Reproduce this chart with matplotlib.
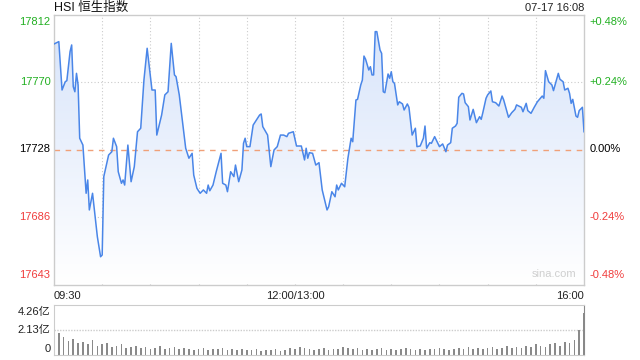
import matplotlib
matplotlib.use('Agg')
import matplotlib.pyplot as plt
import numpy as np
from matplotlib.patches import Polygon
from matplotlib.colors import LinearSegmentedColormap

plt.rcParams['font.family'] = ['Liberation Sans', 'Noto Sans CJK SC', 'DejaVu Sans']

# previous close and intraday index values (trading minute since 09:30, lunch break removed)
prev_close = 17727.6
minutes = [0, 3, 5, 7, 8, 10, 11, 12, 13, 14, 15, 16, 17, 18, 20, 21, 22, 24, 27, 29,
           30, 31, 34, 36, 37, 39, 40, 42, 43, 44, 46, 48, 50, 52, 54, 56, 58, 61, 63, 64,
           67, 69, 71, 73, 75, 76, 78, 82, 84, 86, 87, 89, 91, 93, 95, 96, 97, 99, 101, 104,
           105, 107, 108, 110, 112, 113, 115, 117, 118, 119, 120, 122, 124, 126, 128, 129, 130, 133, 135, 137,
           139, 141, 143, 145, 146, 149, 151, 154, 156, 157, 158, 159, 161, 163, 165, 167, 170, 171, 173, 175,
           176, 177, 179, 181, 183, 184, 185, 186, 188, 189, 191, 192, 193, 194, 196, 197, 198, 199, 200, 201,
           203, 204, 205, 206, 208, 209, 210, 211, 212, 214, 215, 217, 218, 220, 221, 223, 225, 226, 228, 230,
           231, 232, 234, 235, 237, 239, 240, 242, 244, 245, 247, 248, 250, 251, 252, 254, 255, 256, 258, 259,
           261, 263, 265, 266, 267, 269, 270, 272, 273, 275, 277, 279, 280, 283, 285, 287, 288, 291, 292, 294,
           295, 297, 299, 301, 304, 305, 306, 308, 310, 311, 314, 315, 317, 318, 320, 321, 322, 323, 325, 326,
           327, 329, 330]
prices = [17794.1, 17795.6, 17765.1, 17770.3, 17771.0, 17789.3, 17793.5, 17767.2, 17764.0, 17775.6,
          17768.3, 17734.7, 17732.5, 17730.4, 17700.0, 17708.4, 17689.5, 17700.0, 17672.6, 17660.0,
          17661.1, 17710.5, 17724.1, 17726.2, 17734.7, 17729.4, 17713.6, 17706.3, 17708.4, 17705.2,
          17730.4, 17707.3, 17716.8, 17738.8, 17741.0, 17771.4, 17791.4, 17765.1, 17765.1, 17736.7,
          17749.3, 17762.0, 17764.0, 17794.5, 17774.6, 17773.5, 17762.0, 17728.4, 17722.1, 17725.2,
          17711.5, 17703.1, 17700.0, 17702.1, 17700.0, 17705.2, 17701.6, 17705.2, 17713.6, 17725.2,
          17706.3, 17705.2, 17701.0, 17713.6, 17710.5, 17717.8, 17707.3, 17714.7, 17731.5, 17734.7,
          17729.4, 17729.4, 17743.0, 17746.2, 17749.3, 17750.0, 17742.0, 17736.7, 17716.8, 17727.3,
          17729.4, 17736.7, 17736.7, 17735.7, 17737.8, 17738.8, 17729.8, 17729.8, 17721.0, 17728.4,
          17722.1, 17725.6, 17725.2, 17717.8, 17719.3, 17702.1, 17689.5, 17691.5, 17701.0, 17697.8,
          17705.2, 17702.1, 17706.3, 17704.1, 17722.1, 17728.4, 17734.7, 17732.5, 17758.8, 17759.2,
          17768.3, 17771.4, 17786.5, 17784.5, 17777.7, 17779.8, 17774.6, 17774.6, 17801.9, 17801.9,
          17790.3, 17788.2, 17764.0, 17763.4, 17775.2, 17772.5, 17776.6, 17770.3, 17769.3, 17755.7,
          17757.7, 17756.3, 17752.5, 17756.3, 17754.2, 17736.7, 17741.0, 17729.4, 17729.8, 17734.7,
          17742.4, 17728.4, 17731.9, 17731.5, 17735.7, 17731.5, 17729.4, 17731.1, 17726.2, 17730.4,
          17731.9, 17741.0, 17742.4, 17744.1, 17760.5, 17763.0, 17762.6, 17757.1, 17754.6, 17746.2,
          17752.9, 17744.5, 17748.3, 17746.6, 17750.8, 17759.9, 17762.0, 17764.5, 17757.7, 17757.1,
          17755.0, 17761.3, 17758.8, 17747.9, 17750.8, 17752.9, 17755.7, 17754.2, 17751.4, 17756.7,
          17752.1, 17750.4, 17754.2, 17757.7, 17761.3, 17759.9, 17777.3, 17770.3, 17768.3, 17764.7,
          17775.6, 17771.9, 17770.3, 17765.1, 17766.2, 17763.0, 17756.7, 17759.2, 17748.7, 17747.9,
          17752.1, 17754.2, 17738.8]

price_labels = ['17812', '17770', '17728', '17686', '17643']
pct_labels = ['+0.48%', '+0.24%', '0.00%', '-0.24%', '-0.48%']
time_labels = ['09:30', '12:00/13:00', '16:00']
time_ticks = [0, 150, 330]

# volume (亿), one bar every 3 minutes
vol_minutes = list(range(0, 331, 3))
volumes = [4.26, 1.9, 1.5, 1.2, 1.4, 1.0, 1.1, 0.9, 1.3, 0.8,
           0.9, 1.0, 0.7, 0.8, 0.9, 0.6, 0.7, 0.8, 0.6, 0.7,
           0.5, 0.6, 0.8, 0.5, 0.6, 0.7, 0.5, 0.6, 0.5, 0.4,
           0.5, 0.6, 0.4, 0.5, 0.5, 0.6, 0.4, 0.5, 0.4, 0.5,
           0.4, 0.4, 0.5, 0.3, 0.4, 0.4, 0.5, 0.3, 0.4, 0.6,
           0.5, 0.7, 0.6, 0.5, 0.4, 0.5, 0.6, 0.4, 0.5, 0.5,
           0.7, 0.6, 0.5, 0.6, 0.4, 0.5, 0.4, 0.5, 0.6, 0.4,
           0.5, 0.4, 0.5, 0.6, 0.5, 0.4, 0.5, 0.4, 0.5, 0.5,
           0.6, 0.5, 0.4, 0.5, 0.6, 0.5, 0.7, 0.5, 0.6, 0.5,
           0.6, 0.7, 0.5, 0.6, 0.8, 0.6, 0.7, 0.6, 0.8, 0.7,
           0.9, 0.8, 0.7, 0.9, 1.0, 0.8, 1.1, 1.0, 1.3, 2.1, 3.6]
vol_labels = ['4.26亿', '2.13亿', '0']

GREEN = '#22b022'
RED = '#f03c3c'
GRID = '#cccccc'

fig = plt.figure(figsize=(6.4, 3.6), dpi=100)
ax = fig.add_axes([54 / 640, 1 - 284.5 / 360, 530 / 640, 270 / 360])
vax = fig.add_axes([54 / 640, 1 - 355 / 360, 530 / 640, 50 / 360])

ymin = prev_close * (1 - 0.0048)
ymax = prev_close * (1 + 0.0048)
ax.set_xlim(0, 330)
ax.set_ylim(ymin, ymax)

# grid
for m in range(30, 330, 30):
    ax.axvline(m, color=GRID, lw=0.8, ls=(0, (1, 2)), zorder=0)
for f in (-0.0024, 0.0024):
    ax.axhline(prev_close * (1 + f), color=GRID, lw=0.8, ls=(0, (1, 2)), zorder=0)
ax.axhline(prev_close, color='#f0a078', lw=1, ls=(0, (4, 4)), zorder=2)

# gradient area under the line
verts = [(minutes[0], ymin)] + list(zip(minutes, prices)) + [(minutes[-1], ymin)]
poly = Polygon(verts, closed=True, facecolor='none', edgecolor='none')
ax.add_patch(poly)
grad = np.linspace(1, 0, 256).reshape(-1, 1)
cmap = LinearSegmentedColormap.from_list('g', ['#ffffff', '#d6e3fa'])
im = ax.imshow(grad, extent=[0, 330, ymin, ymax], aspect='auto', cmap=cmap,
               origin='upper', zorder=1)
im.set_clip_path(poly)

ax.plot(minutes, prices, color='#4a86e8', lw=1.1, zorder=3)

ax.set_xticks([])
ax.set_yticks([])
for s in ax.spines.values():
    s.set_color(GRID)
    s.set_linewidth(1)

# y labels
fracs = [1, 0.75, 0.5, 0.25, 0]
colors = [GREEN, GREEN, 'black', RED, RED]
vas = ['top', 'center', 'center', 'center', 'bottom']
offs = [-2, 0, 0, 0, 3]
for f, pl, cl, c, va, o in zip(fracs, price_labels, pct_labels, colors, vas, offs):
    ax.annotate(pl, (0, f), xycoords='axes fraction', xytext=(-2.5, o),
                textcoords='offset points', ha='right', va=va, color=c, fontsize=8)
    ax.annotate(cl, (1, f), xycoords='axes fraction', xytext=(4, o),
                textcoords='offset points', ha='left', va=va, color=c, fontsize=8)

# time labels
for t, lab, ha in zip(time_ticks, time_labels, ['left', 'center', 'right']):
    ax.annotate(lab, (t, 0), xycoords=('data', 'axes fraction'), xytext=(0, -5),
                textcoords='offset points', ha=ha, va='top', fontsize=8, color='#222222')

ax.text(0.985, 0.02, 'sina.com', transform=ax.transAxes, ha='right', va='bottom',
        fontsize=8, color='#cfcfcf')

fig.text(54 / 640, 1 - 8 / 360, 'HSI 恒生指数', ha='left', va='center', fontsize=9, color='#111111')
fig.text(584 / 640, 1 - 8 / 360, '07-17 16:08', ha='right', va='center', fontsize=8, color='#222222')

# volume panel
vax.bar(vol_minutes, volumes, width=1.0, color='#8a8a8a', zorder=2)
vax.set_xlim(0, 330)
vax.set_ylim(0, 4.26)
vax.set_xticks([])
vax.set_yticks([])
vax.axhline(2.13, color=GRID, lw=1, ls=(0, (1, 1)), zorder=0)
vax.spines['top'].set_linestyle((0, (1, 1)))
vax.spines['top'].set_color(GRID)
vax.spines['left'].set_color(GRID)
vax.spines['bottom'].set_color(GRID)
vax.spines['right'].set_color('#888888')
for f, lab, va, o in zip([1, 0.5, 0], vol_labels, ['top', 'center', 'bottom'], [-1, 0, 1]):
    vax.annotate(lab, (0, f), xycoords='axes fraction', xytext=(-2.5, o),
                 textcoords='offset points', ha='right', va=va, fontsize=8, color='#222222')

fig.savefig('out.png', dpi=100)
